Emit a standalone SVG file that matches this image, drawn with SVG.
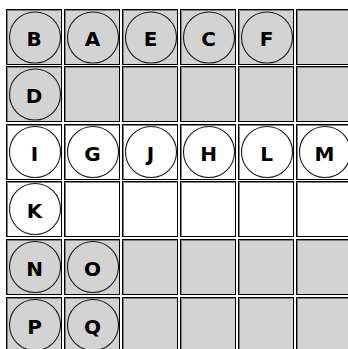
<svg xmlns="http://www.w3.org/2000/svg" width="348" height="349" viewBox="0 0 348 349">
<style>
.g{fill:#d3d3d3;stroke:#000;stroke-width:1}
.w{fill:#fff;stroke:#000;stroke-width:1}
.in{fill:none;stroke:#808080;stroke-width:1}
.n circle{fill:none;stroke:#1a1a1a;stroke-width:1.1}
.n text{font-family:"DejaVu Sans",sans-serif;font-weight:bold;font-size:20px;text-anchor:middle;fill:#000}
</style>
<defs>
<g id="cg"><rect class="g" x="0.5" y="0.5" width="55" height="55"/><path class="in" d="M1.5 55V1.5H55"/></g>
<g id="cw"><rect class="w" x="0.5" y="0.5" width="55" height="55"/><path class="in" d="M1.5 55V1.5H55"/></g>
</defs>
<g id="grid">
<use href="#cg" x="6" y="9"/><use href="#cg" x="64" y="9"/><use href="#cg" x="122" y="9"/><use href="#cg" x="180" y="9"/><use href="#cg" x="238" y="9"/><use href="#cg" x="296" y="9"/>
<use href="#cg" x="6" y="66"/><use href="#cg" x="64" y="66"/><use href="#cg" x="122" y="66"/><use href="#cg" x="180" y="66"/><use href="#cg" x="238" y="66"/><use href="#cg" x="296" y="66"/>
<use href="#cw" x="6" y="124"/><use href="#cw" x="64" y="124"/><use href="#cw" x="122" y="124"/><use href="#cw" x="180" y="124"/><use href="#cw" x="238" y="124"/><use href="#cw" x="296" y="124"/>
<use href="#cw" x="6" y="181"/><use href="#cw" x="64" y="181"/><use href="#cw" x="122" y="181"/><use href="#cw" x="180" y="181"/><use href="#cw" x="238" y="181"/><use href="#cw" x="296" y="181"/>
<use href="#cg" x="6" y="239"/><use href="#cg" x="64" y="239"/><use href="#cg" x="122" y="239"/><use href="#cg" x="180" y="239"/><use href="#cg" x="238" y="239"/><use href="#cg" x="296" y="239"/>
<use href="#cg" x="6" y="297"/><use href="#cg" x="64" y="297"/><use href="#cg" x="122" y="297"/><use href="#cg" x="180" y="297"/><use href="#cg" x="238" y="297"/><use href="#cg" x="296" y="297"/>
</g>
<g id="connectors"/>
<g id="B" class="n"><circle cx="35" cy="37.5" r="25.5"/><text x="34" y="46">B</text></g>
<g id="A" class="n"><circle cx="93" cy="37.5" r="25.5"/><text x="92.5" y="46">A</text></g>
<g id="E" class="n"><circle cx="151" cy="37.5" r="25.5"/><text x="150.5" y="46">E</text></g>
<g id="C" class="n"><circle cx="209" cy="37.5" r="25.5"/><text x="208.5" y="46">C</text></g>
<g id="F" class="n"><circle cx="267" cy="37.5" r="25.5"/><text x="266.5" y="46">F</text></g>
<g id="D" class="n"><circle cx="35" cy="94.5" r="25.5"/><text x="34" y="103">D</text></g>
<g id="I" class="n"><circle cx="35" cy="152" r="25.5"/><text x="34.5" y="160.5">I</text></g>
<g id="G" class="n"><circle cx="93" cy="152" r="25.5"/><text x="92.5" y="160.5">G</text></g>
<g id="J" class="n"><circle cx="151" cy="152" r="25.5"/><text x="150.5" y="160.5">J</text></g>
<g id="H" class="n"><circle cx="209" cy="152" r="25.5"/><text x="208.5" y="160.5">H</text></g>
<g id="L" class="n"><circle cx="267" cy="152" r="25.5"/><text x="266.5" y="160.5">L</text></g>
<g id="M" class="n"><circle cx="325" cy="152" r="25.5"/><text x="324.5" y="160.5">M</text></g>
<g id="K" class="n"><circle cx="35" cy="209" r="25.5"/><text x="34.5" y="217.5">K</text></g>
<g id="N" class="n"><circle cx="35" cy="267" r="25.5"/><text x="34.5" y="275.5">N</text></g>
<g id="O" class="n"><circle cx="93" cy="267" r="25.5"/><text x="92.5" y="275.5">O</text></g>
<g id="P" class="n"><circle cx="35" cy="325" r="25.5"/><text x="34.5" y="333.5">P</text></g>
<g id="Q" class="n"><circle cx="93" cy="325" r="25.5"/><text x="92.5" y="333.5">Q</text></g>
</svg>
